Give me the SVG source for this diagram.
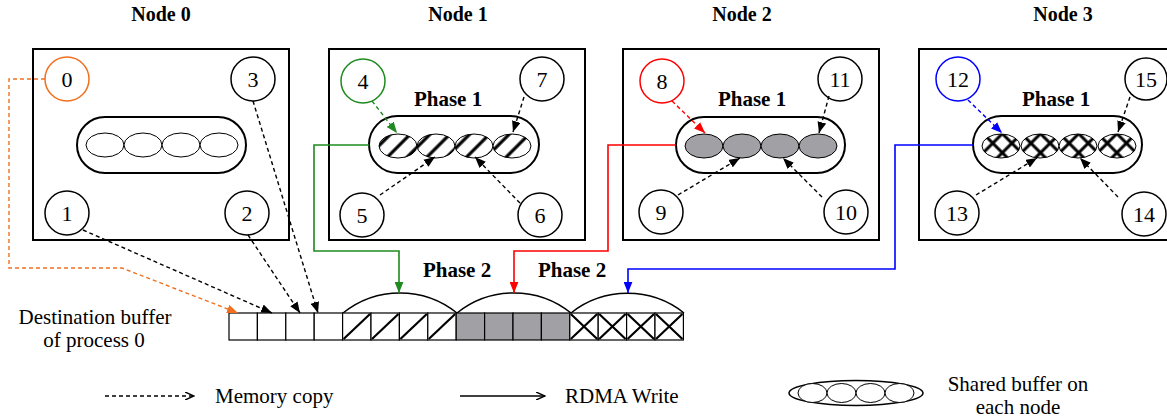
<svg xmlns="http://www.w3.org/2000/svg" width="1167" height="418" viewBox="0 0 1167 418">
<style>
text{font-family:"Liberation Serif","Times New Roman",serif;fill:#000}
.lbl{font-size:22px;text-anchor:middle}
.txt{font-size:21px;text-anchor:middle}
.bold{font-size:20px;font-weight:bold;text-anchor:middle}
.ph{font-size:21px;font-weight:bold;text-anchor:middle}
.leg{font-size:21px}
.box{fill:#fff;stroke:#000;stroke-width:2}
.circ{fill:#fff;stroke:#000;stroke-width:1.5}
.buf{fill:#fff;stroke:#000;stroke-width:2}
.cell{stroke:#000;stroke-width:1.2}
.dash{fill:none;stroke:#000;stroke-width:1.4;stroke-dasharray:4 3}
.solid{fill:none;stroke-width:1.6}
</style>
<defs>
<pattern id="hatch" width="14" height="14" patternUnits="userSpaceOnUse" patternTransform="rotate(45)">
<rect width="14" height="14" fill="#fff"/>
<line x1="7" y1="0" x2="7" y2="14" stroke="#000" stroke-width="3.2"/>
</pattern>
<pattern id="cross" width="13.5" height="13.5" patternUnits="userSpaceOnUse" patternTransform="rotate(45)">
<rect width="13.5" height="13.5" fill="#fff"/>
<line x1="6.75" y1="0" x2="6.75" y2="13.5" stroke="#000" stroke-width="3"/>
<line x1="0" y1="6.75" x2="13.5" y2="6.75" stroke="#000" stroke-width="3"/>
</pattern>
<marker id="ak" viewBox="0 0 10 8" refX="10" refY="4" markerWidth="11" markerHeight="9" orient="auto" markerUnits="userSpaceOnUse"><path d="M0,0 L10,4 L0,8 z" fill="#000"/></marker>
<marker id="ag" viewBox="0 0 10 8" refX="10" refY="4" markerWidth="11" markerHeight="9" orient="auto" markerUnits="userSpaceOnUse"><path d="M0,0 L10,4 L0,8 z" fill="#1f8a1f"/></marker>
<marker id="ar" viewBox="0 0 10 8" refX="10" refY="4" markerWidth="11" markerHeight="9" orient="auto" markerUnits="userSpaceOnUse"><path d="M0,0 L10,4 L0,8 z" fill="#ff0000"/></marker>
<marker id="ab" viewBox="0 0 10 8" refX="10" refY="4" markerWidth="11" markerHeight="9" orient="auto" markerUnits="userSpaceOnUse"><path d="M0,0 L10,4 L0,8 z" fill="#0000ff"/></marker>
<marker id="ao" viewBox="0 0 10 8" refX="10" refY="4" markerWidth="11" markerHeight="9" orient="auto" markerUnits="userSpaceOnUse"><path d="M0,0 L10,4 L0,8 z" fill="#f07020"/></marker>
<marker id="aopen" viewBox="0 0 10 8" refX="9" refY="4" markerWidth="10" markerHeight="8" orient="auto" markerUnits="userSpaceOnUse"><path d="M0,0 L9,4 L0,8" fill="none" stroke="#000" stroke-width="1.4"/></marker>
</defs>

<text class="bold" x="161" y="21">Node 0</text>
<text class="bold" x="458" y="21">Node 1</text>
<text class="bold" x="742" y="21">Node 2</text>
<text class="bold" x="1063" y="21">Node 3</text>

<g id="node0">
<rect class="box" x="33" y="49" width="256" height="191"/>
<rect class="buf" x="77" y="117" width="169" height="56" rx="28"/>
<ellipse cx="105" cy="145" rx="19" ry="12" fill="#fff" stroke="#000" stroke-width="1"/>
<ellipse cx="143" cy="145" rx="19" ry="12" fill="#fff" stroke="#000" stroke-width="1"/>
<ellipse cx="181" cy="145" rx="19" ry="12" fill="#fff" stroke="#000" stroke-width="1"/>
<ellipse cx="219" cy="145" rx="19" ry="12" fill="#fff" stroke="#000" stroke-width="1"/>
<circle cx="67" cy="79" r="22" fill="#fff" stroke="#f07020" stroke-width="1.5"/><text class="lbl" x="67" y="87">0</text>
<circle class="circ" cx="253" cy="79" r="22"/><text class="lbl" x="253" y="87">3</text>
<circle class="circ" cx="67" cy="213" r="22"/><text class="lbl" x="67" y="221">1</text>
<circle class="circ" cx="247" cy="213" r="22"/><text class="lbl" x="247" y="221">2</text>
</g>

<g id="node1">
<rect class="box" x="329" y="49" width="256" height="191"/>
<text class="ph" x="448" y="106">Phase 1</text>
<rect class="buf" x="369" y="116" width="170" height="57" rx="28.5"/>
<ellipse cx="398" cy="146" rx="19" ry="12" fill="url(#hatch)" stroke="#000" stroke-width="1"/>
<ellipse cx="436" cy="146" rx="19" ry="12" fill="url(#hatch)" stroke="#000" stroke-width="1"/>
<ellipse cx="474" cy="146" rx="19" ry="12" fill="url(#hatch)" stroke="#000" stroke-width="1"/>
<ellipse cx="512" cy="146" rx="19" ry="12" fill="url(#hatch)" stroke="#000" stroke-width="1"/>
<circle cx="363" cy="81" r="22" fill="#fff" stroke="#1f8a1f" stroke-width="1.5"/><text class="lbl" x="363" y="89">4</text>
<circle class="circ" cx="542" cy="79" r="22"/><text class="lbl" x="542" y="87">7</text>
<circle class="circ" cx="362" cy="215" r="22"/><text class="lbl" x="362" y="223">5</text>
<circle class="circ" cx="540" cy="215" r="22"/><text class="lbl" x="540" y="223">6</text>
</g>

<g id="node2">
<rect class="box" x="623" y="49" width="256" height="191"/>
<text class="ph" x="752" y="106">Phase 1</text>
<rect class="buf" x="676" y="117" width="169" height="56" rx="28"/>
<ellipse cx="704" cy="146" rx="19" ry="12" fill="#a0a0a5" stroke="#000" stroke-width="1"/>
<ellipse cx="742" cy="146" rx="19" ry="12" fill="#a0a0a5" stroke="#000" stroke-width="1"/>
<ellipse cx="780" cy="146" rx="19" ry="12" fill="#a0a0a5" stroke="#000" stroke-width="1"/>
<ellipse cx="818" cy="146" rx="19" ry="12" fill="#a0a0a5" stroke="#000" stroke-width="1"/>
<circle cx="662" cy="81" r="22" fill="#fff" stroke="#ff0000" stroke-width="1.5"/><text class="lbl" x="662" y="89">8</text>
<circle class="circ" cx="840" cy="79" r="22"/><text class="lbl" x="840" y="87">11</text>
<circle class="circ" cx="661" cy="212" r="22"/><text class="lbl" x="661" y="220">9</text>
<circle class="circ" cx="846" cy="212" r="22"/><text class="lbl" x="846" y="220">10</text>
</g>

<g id="node3">
<rect class="box" x="919" y="49" width="256" height="191"/>
<text class="ph" x="1056" y="106">Phase 1</text>
<rect class="buf" x="973" y="116" width="169" height="57" rx="28.5"/>
<ellipse cx="1001" cy="146" rx="19" ry="12" fill="url(#cross)" stroke="#000" stroke-width="1"/>
<ellipse cx="1040" cy="146" rx="19" ry="12" fill="url(#cross)" stroke="#000" stroke-width="1"/>
<ellipse cx="1078" cy="146" rx="19" ry="12" fill="url(#cross)" stroke="#000" stroke-width="1"/>
<ellipse cx="1117" cy="146" rx="19" ry="12" fill="url(#cross)" stroke="#000" stroke-width="1"/>
<circle cx="958" cy="79" r="22" fill="#fff" stroke="#0000ff" stroke-width="1.5"/><text class="lbl" x="958" y="87">12</text>
<circle class="circ" cx="1146" cy="79" r="21"/><text class="lbl" x="1146" y="87">15</text>
<circle class="circ" cx="957" cy="213" r="22"/><text class="lbl" x="957" y="221">13</text>
<circle class="circ" cx="1144" cy="214" r="22"/><text class="lbl" x="1144" y="222">14</text>
</g>

<g id="dest-buffer">
<path d="M343,313 A91,91 0 0 1 457,313 A91,91 0 0 1 571,313 A91,91 0 0 1 684,313" fill="none" stroke="#000" stroke-width="1.5"/>
<rect class="cell" x="229" y="313" width="28.4" height="27" fill="#fff"/>
<rect class="cell" x="257.4" y="313" width="28.4" height="27" fill="#fff"/>
<rect class="cell" x="285.8" y="313" width="28.4" height="27" fill="#fff"/>
<rect class="cell" x="314.2" y="313" width="28.4" height="27" fill="#fff"/>
<rect class="cell" x="342.6" y="313" width="28.4" height="27" fill="#fff"/>
<rect class="cell" x="371" y="313" width="28.4" height="27" fill="#fff"/>
<rect class="cell" x="399.4" y="313" width="28.4" height="27" fill="#fff"/>
<rect class="cell" x="427.8" y="313" width="28.4" height="27" fill="#fff"/>
<g stroke="#000" stroke-width="2.2">
<line x1="343.6" y1="339" x2="370" y2="314"/>
<line x1="372" y1="339" x2="398.4" y2="314"/>
<line x1="400.4" y1="339" x2="426.8" y2="314"/>
<line x1="428.8" y1="339" x2="455.2" y2="314"/>
</g>
<rect class="cell" x="456.2" y="313" width="28.4" height="27" fill="#a0a0a5"/>
<rect class="cell" x="484.6" y="313" width="28.4" height="27" fill="#a0a0a5"/>
<rect class="cell" x="513" y="313" width="28.4" height="27" fill="#a0a0a5"/>
<rect class="cell" x="541.4" y="313" width="28.4" height="27" fill="#a0a0a5"/>
<rect class="cell" x="569.8" y="313" width="28.4" height="27" fill="#fff"/>
<rect class="cell" x="598.2" y="313" width="28.4" height="27" fill="#fff"/>
<rect class="cell" x="626.6" y="313" width="28.4" height="27" fill="#fff"/>
<rect class="cell" x="655" y="313" width="28.4" height="27" fill="#fff"/>
<g stroke="#000" stroke-width="2.2">
<path d="M570.8,314 L597.2,339 M570.8,339 L597.2,314"/>
<path d="M599.2,314 L625.6,339 M599.2,339 L625.6,314"/>
<path d="M627.6,314 L654,339 M627.6,339 L654,314"/>
<path d="M656,314 L682.4,339 M656,339 L682.4,314"/>
</g>
<text class="ph" x="457" y="277">Phase 2</text>
<text class="ph" x="572" y="277">Phase 2</text>
<text class="txt" x="95" y="324">Destination buffer</text>
<text class="txt" x="94" y="347">of process 0</text>
</g>

<g id="connectors">
<path class="dash" d="M45,79 H9 V268 H122 L238,313" style="stroke:#f07020" marker-end="url(#ao)"/>
<path class="dash" d="M83,230 L272,313" marker-end="url(#ak)"/>
<path class="dash" d="M248,235 L300,313" marker-end="url(#ak)"/>
<path class="dash" d="M253,101 L318,313" marker-end="url(#ak)"/>

<path class="dash" d="M372,101 L397,133" style="stroke:#1f8a1f" marker-end="url(#ag)"/>
<path class="dash" d="M524,97 L513,132" marker-end="url(#ak)"/>
<path class="dash" d="M380,195 L435,157" marker-end="url(#ak)"/>
<path class="dash" d="M520,203 L475,157" marker-end="url(#ak)"/>

<path class="dash" d="M672,101 L705,133" style="stroke:#ff0000" marker-end="url(#ar)"/>
<path class="dash" d="M829,96 L819,133" marker-end="url(#ak)"/>
<path class="dash" d="M678,195 L740,158" marker-end="url(#ak)"/>
<path class="dash" d="M822,197 L783,158" marker-end="url(#ak)"/>

<path class="dash" d="M968,100 L1002,133" style="stroke:#0000ff" marker-end="url(#ab)"/>
<path class="dash" d="M1130,97 L1118,132" marker-end="url(#ak)"/>
<path class="dash" d="M976,195 L1037,158" marker-end="url(#ak)"/>
<path class="dash" d="M1118,197 L1080,158" marker-end="url(#ak)"/>

<path class="solid" d="M369,145 H314 V251 H399 V293" stroke="#1f8a1f" marker-end="url(#ag)"/>
<path class="solid" d="M676,145 H608 V251 H514 V293" stroke="#ff0000" marker-end="url(#ar)"/>
<path class="solid" d="M973,145 H895 V269 H628 V293" stroke="#0000ff" marker-end="url(#ab)"/>
</g>

<g id="legend">
<path class="dash" d="M105,396 H194" marker-end="url(#aopen)"/>
<text class="leg" x="215" y="403">Memory copy</text>
<path d="M460,396 H545" fill="none" stroke="#000" stroke-width="1.3" marker-end="url(#aopen)"/>
<text class="leg" x="565" y="403">RDMA Write</text>
<ellipse cx="856" cy="393" rx="67" ry="12.5" fill="#fff" stroke="#000" stroke-width="1.5"/>
<ellipse cx="812.5" cy="393" rx="14.5" ry="9.5" fill="#fff" stroke="#000" stroke-width="1"/>
<ellipse cx="841.5" cy="393" rx="14.5" ry="9.5" fill="#fff" stroke="#000" stroke-width="1"/>
<ellipse cx="870.5" cy="393" rx="14.5" ry="9.5" fill="#fff" stroke="#000" stroke-width="1"/>
<ellipse cx="899.5" cy="393" rx="14.5" ry="9.5" fill="#fff" stroke="#000" stroke-width="1"/>
<text class="leg" x="1018" y="391" text-anchor="middle">Shared buffer on</text>
<text class="leg" x="1018" y="414" text-anchor="middle">each node</text>
</g>
</svg>
